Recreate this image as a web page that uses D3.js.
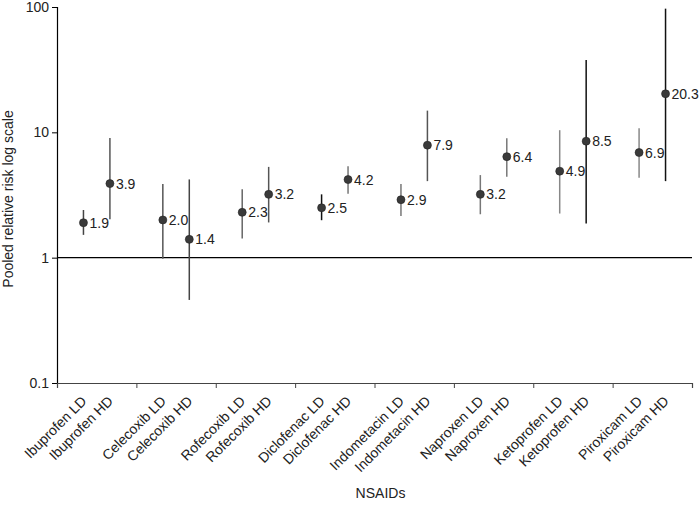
<!DOCTYPE html>
<html><head><meta charset="utf-8">
<script src="https://cdn.jsdelivr.net/npm/d3@7"></script>
<style>body{margin:0;background:#fff}svg{display:block}text{font-family:"Liberation Sans",Arial,sans-serif}</style>
</head><body><svg id="c" width="700" height="506"></svg>
<script>
const drugs = ["Ibuprofen","Celecoxib","Rofecoxib","Diclofenac","Indometacin","Naproxen","Ketoprofen","Piroxicam"];
const labels = ["Ibuprofen LD","Ibuprofen HD","Celecoxib LD","Celecoxib HD","Rofecoxib LD","Rofecoxib HD","Diclofenac LD","Diclofenac HD","Indometacin LD","Indometacin HD","Naproxen LD","Naproxen HD","Ketoprofen LD","Ketoprofen HD","Piroxicam LD","Piroxicam HD"];
const rr    = [1.9,3.9,2.0,1.4,2.3,3.2,2.5,4.2,2.9,7.9,3.2,6.4,4.9,8.5,6.9,20.3];
const lower = [1.52,2.03,0.98,0.46,1.42,1.91,1.99,3.24,2.15,4.08,2.22,4.42,2.25,1.87,4.34,4.08];
const upper = [2.40,9.0,3.87,4.21,3.51,5.3,3.2,5.37,3.87,14.9,4.56,8.96,10.4,37.8,10.8,97];
const barColors = ["#444","#555","#555","#444","#666","#555","#111","#777","#777","#555","#777","#777","#888","#111","#888","#111"];
const yTicks = [0.1,1,10,100];

const FS = 14;
const svg = d3.select("#c");
const L=57,R=692,T=7,B=383;
const y = d3.scaleLog().domain([0.1,100]).range([B,T]);
const slot = d3.scaleLinear().domain([0,24]).range([L,R]);
const xPos = i => slot(Math.floor(i/2)*3 + 1 + (i%2));

// y axis
const ya = svg.append("g").attr("transform",`translate(${L},0)`)
  .call(d3.axisLeft(y).tickValues(yTicks).tickFormat(d=>String(d)).tickSizeOuter(0).tickSize(5));
ya.select(".domain").attr("stroke","#000").attr("stroke-width",1.2);
ya.selectAll("line").attr("stroke","#000");
ya.selectAll("text").attr("font-size",FS).attr("fill","#222").attr("font-family","Liberation Sans, Arial, sans-serif");

// x axis
const gx = d3.scaleLinear().domain([0,8]).range([L,R]);
const xa = svg.append("g").attr("transform",`translate(0,${B})`)
  .call(d3.axisBottom(gx).tickValues(d3.range(0,9)).tickFormat("").tickSizeOuter(0).tickSize(5));
xa.select(".domain").attr("stroke","#444").attr("stroke-width",1.2);
xa.selectAll("line").attr("stroke","#444");

// reference line at 1
svg.append("line").attr("x1",L).attr("x2",R).attr("y1",y(1)).attr("y2",y(1)).attr("stroke","#000").attr("stroke-width",1.2);

// error bars
svg.append("g").selectAll("line").data(rr).join("line")
  .attr("x1",(d,i)=>xPos(i)).attr("x2",(d,i)=>xPos(i))
  .attr("y1",(d,i)=>y(lower[i])).attr("y2",(d,i)=>y(upper[i]))
  .attr("stroke",(d,i)=>barColors[i]).attr("stroke-width",1.5);

// points
svg.append("g").selectAll("circle").data(rr).join("circle")
  .attr("cx",(d,i)=>xPos(i)).attr("cy",d=>y(d)).attr("r",4)
  .attr("fill","#3a3a3a").attr("stroke","#222").attr("stroke-width",0.6);

// value labels
svg.append("g").selectAll("text").data(rr).join("text")
  .attr("x",(d,i)=>xPos(i)+6).attr("y",d=>y(d)).attr("dy","0.36em")
  .attr("font-size",FS).attr("fill","#222")
  .text(d=>d.toFixed(1));

// x labels
svg.append("g").selectAll("text").data(labels).join("text")
  .attr("transform",(d,i)=>`translate(${xPos(i)+4},${B+19}) rotate(-45)`)
  .attr("text-anchor","end").attr("font-size",FS).attr("fill","#222")
  .text(d=>d);

// axis titles
svg.append("text").attr("x",(L+R)/2+6).attr("y",498).attr("text-anchor","middle")
  .attr("font-size",FS).attr("fill","#222").text("NSAIDs");
svg.append("text").attr("transform",`translate(13,199) rotate(-90)`).attr("text-anchor","middle")
  .attr("font-size",FS).attr("fill","#222").text("Pooled relative risk log scale");
</script></body></html>
